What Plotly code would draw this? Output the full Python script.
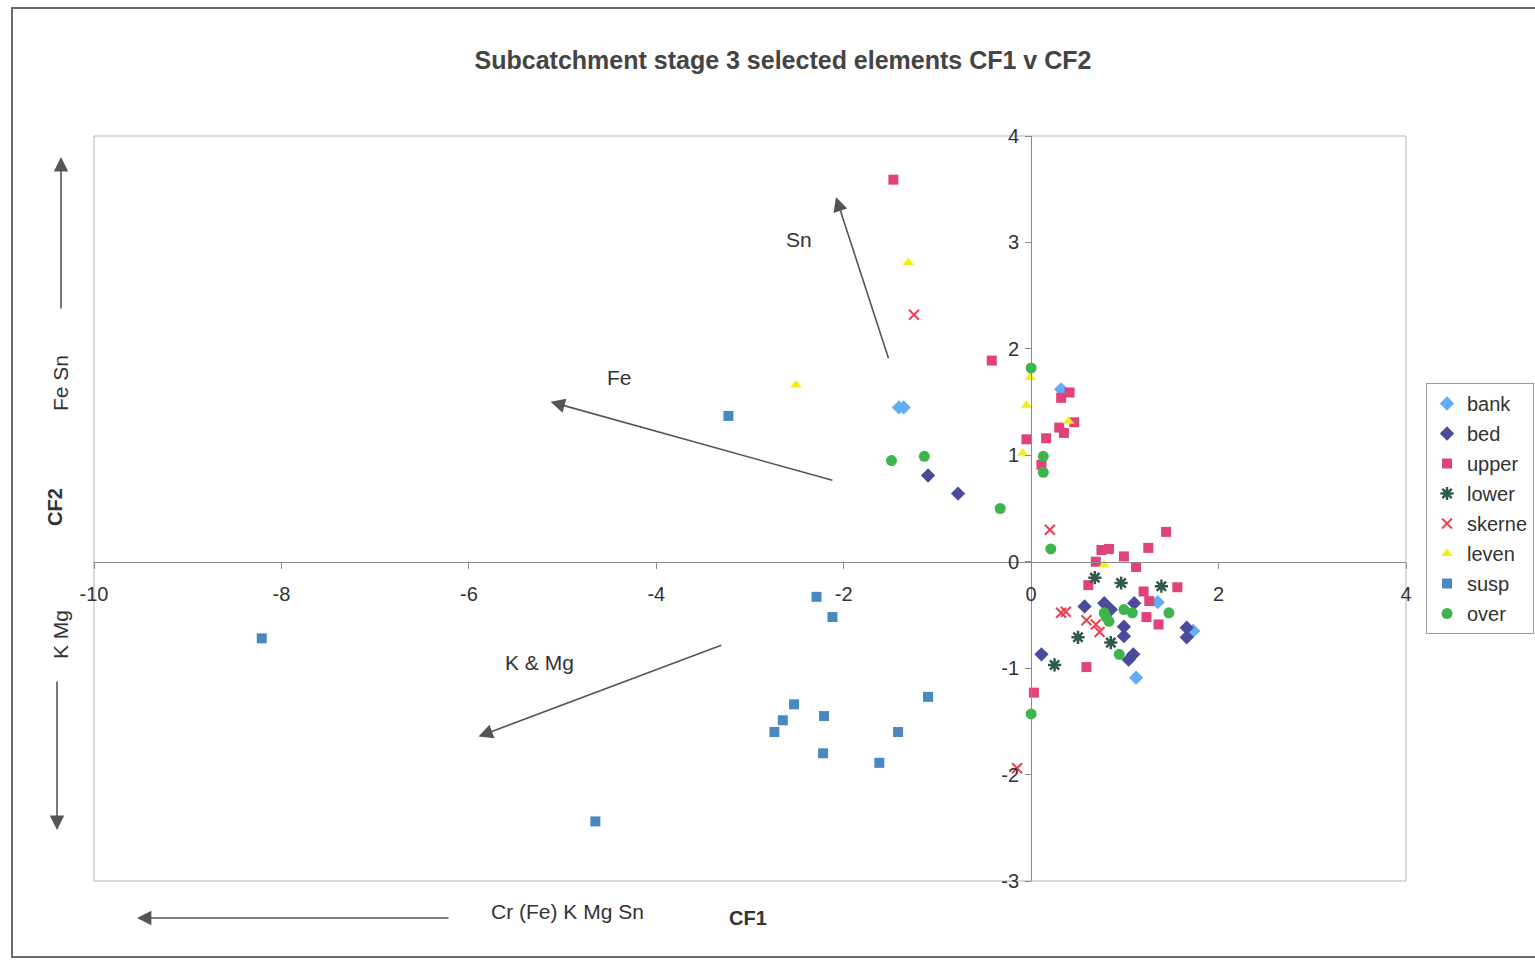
import plotly.graph_objects as go

# ---------------- data ----------------
bank_x = [-1.41, -1.36, 0.32, 1.35, 1.73, 1.12]
bank_y = [1.45, 1.45, 1.62, -0.38, -0.65, -1.09]

bed_x = [-1.10, -0.78, 0.11, 0.57, 0.78, 0.85, 1.10, 0.99, 0.99, 1.09, 1.04, 1.66, 1.66]
bed_y = [0.81, 0.64, -0.87, -0.42, -0.39, -0.45, -0.39, -0.61, -0.70, -0.87, -0.92, -0.62, -0.71]

upper_x = [-1.47, -0.42, 0.32, 0.41, 0.30, 0.35, 0.46, -0.05, 0.16, 0.11,
           0.69, 0.75, 0.83, 0.99, 1.12, 1.25, 1.44, 0.61, 1.56, 1.20, 1.26,
           1.23, 1.36, 0.59, 0.03]
upper_y = [3.59, 1.89, 1.54, 1.59, 1.26, 1.21, 1.31, 1.15, 1.16, 0.91,
           0.00, 0.11, 0.12, 0.05, -0.05, 0.13, 0.28, -0.22, -0.24, -0.28, -0.37,
           -0.52, -0.59, -0.99, -1.23]

lower_x = [0.68, 0.96, 1.39, 0.50, 0.85, 0.25]
lower_y = [-0.15, -0.20, -0.23, -0.71, -0.76, -0.97]

skerne_x = [-1.25, 0.20, 0.32, 0.37, 0.59, 0.69, 0.73, -0.15]
skerne_y = [2.32, 0.30, -0.48, -0.47, -0.55, -0.59, -0.66, -1.94]

leven_x = [-1.31, -2.51, -0.01, -0.05, -0.09, 0.40, 0.78]
leven_y = [2.81, 1.66, 1.73, 1.47, 1.02, 1.32, -0.03]

susp_x = [-8.21, -4.65, -3.23, -2.29, -2.12, -2.53, -2.65, -2.74, -2.21, -2.22, -1.62, -1.42, -1.10]
susp_y = [-0.72, -2.44, 1.37, -0.33, -0.52, -1.34, -1.49, -1.60, -1.45, -1.80, -1.89, -1.60, -1.27]

over_x = [-1.49, -1.14, -0.33, 0.00, 0.13, 0.13, 0.21, 0.78, 0.83, 0.80, 0.99, 1.08, 1.47, 0.94, 0.00]
over_y = [0.95, 0.99, 0.50, 1.82, 0.99, 0.84, 0.12, -0.48, -0.56, -0.52, -0.45, -0.48, -0.48, -0.87, -1.43]

x_tickvals = [-10, -8, -6, -4, -2, 0, 2, 4]
x_ticktext = ["-10", "-8", "-6", "-4", "-2", "0", "2", "4"]
y_tickvals = [-3, -2, -1, 0, 1, 2, 3, 4]
y_ticktext = ["-3", "-2", "-1", "0", "1", "2", "3", "4"]

title_text = "Subcatchment stage 3 selected elements CF1 v CF2"

# ---------------- figure ----------------
W, H = 1535, 960
L, R, T, B = 94, 129, 136, 79
PW, PH = W - L - R, H - T - B


def px(xp):
    return (xp - L) / PW


def py(yp):
    return (H - B - yp) / PH


FONT = "Liberation Sans, Arial, sans-serif"
TXT = "#333333"

fig = go.Figure()

series = [
    ("bank", bank_x, bank_y, dict(symbol="diamond", size=11, color="#62AEF2")),
    ("bed", bed_x, bed_y, dict(symbol="diamond", size=11, color="#4B4B9B")),
    ("upper", upper_x, upper_y, dict(symbol="square", size=10, color="#E0437C")),
    ("lower", lower_x, lower_y, dict(symbol="asterisk-open", size=11, color="#2F5A4A",
                                       line=dict(width=2.5, color="#2F5A4A"))),
    ("skerne", skerne_x, skerne_y, dict(symbol="x-thin-open", size=10, color="#F03F55",
                                         line=dict(width=2, color="#F03F55"))),
    ("leven", leven_x, leven_y, dict(symbol="triangle-up", size=10, color="#F4EE10")),
    ("susp", susp_x, susp_y, dict(symbol="square", size=10, color="#4A89BF")),
    ("over", over_x, over_y, dict(symbol="circle", size=11, color="#3EB54C")),
]
for name, xs, ys, mk in series:
    fig.add_trace(go.Scatter(x=xs, y=ys, mode="markers", name=name, marker=mk,
                             legendgroup=name))

axis_common = dict(showgrid=False, zeroline=False, showline=True, linecolor="#8a8a8a",
                   linewidth=1, ticks="outside", ticklen=6, tickcolor="#8a8a8a",
                   tickfont=dict(family=FONT, size=20, color=TXT))

fig.update_layout(
    width=W, height=H,
    margin=dict(l=L, r=R, t=T, b=B, autoexpand=False),
    paper_bgcolor="white", plot_bgcolor="white",
    title=dict(text=title_text, x=783 / W, xanchor="center", y=1 - 60 / H, yanchor="middle",
               font=dict(family=FONT, size=25, color="#444444", weight="bold")),
    xaxis=dict(range=[-10, 4], tickvals=x_tickvals, ticktext=x_ticktext,
               anchor="free", position=3 / 7, ticklabelstandoff=8, **axis_common),
    yaxis=dict(range=[-3, 4], tickvals=y_tickvals, ticktext=y_ticktext,
               anchor="free", position=10 / 14, side="left", ticklabelstandoff=2, **axis_common),
    legend=dict(x=px(1426), xanchor="left", y=py(383), yanchor="top",
                bordercolor="#9a9a9a", borderwidth=1, bgcolor="white",
                font=dict(family=FONT, size=20, color=TXT), tracegroupgap=1,
                itemwidth=30),
    showlegend=True,
)

# plot-area frame and outer chart border
fig.add_shape(type="rect", xref="paper", yref="paper", x0=0, x1=1, y0=0, y1=1,
              line=dict(color="#b5b5b5", width=1), layer="below")
fig.add_shape(type="rect", xref="paper", yref="paper", x0=px(12), x1=px(1560),
              y0=py(957), y1=py(8), line=dict(color="#6a6a6a", width=2), layer="below")

ARROW = "#555555"
AH = dict(arrowhead=2, arrowsize=1.8, arrowwidth=1.6, arrowcolor=ARROW)
# in-plot arrows (data coordinates)
arrows = [
    ((-2.083, 3.427), (-1.517, 1.897)),
    ((-5.128, 1.502), (-2.105, 0.761)),
    ((-5.897, -1.643), (-3.291, -0.779)),
]
for (hx, hy), (tx, ty) in arrows:
    fig.add_annotation(x=hx, y=hy, ax=tx, ay=ty, xref="x", yref="y", axref="x", ayref="y",
                       text="", showarrow=True, standoff=0, **AH)

labels = [("Sn", -2.479, 3.023), ("Fe", -4.391, 1.728), ("K &amp; Mg", -5.246, -0.948)]
for t, lx, ly in labels:
    fig.add_annotation(x=lx, y=ly, xref="x", yref="y", text=t, showarrow=False,
                       font=dict(family=FONT, size=21, color=TXT))

# outside arrows (paper coordinates, pixel offsets)
fig.add_annotation(x=px(61), y=py(157), xref="paper", yref="paper", ax=0, ay=153, text="",
                   showarrow=True, **AH)
fig.add_annotation(x=px(57), y=py(830), xref="paper", yref="paper", ax=0, ay=-150, text="",
                   showarrow=True, **AH)
fig.add_annotation(x=px(137), y=py(918), xref="paper", yref="paper", ax=313, ay=0, text="",
                   showarrow=True, **AH)

side_texts = [
    ("Fe Sn", 60, 383, False, -90),
    ("CF2", 55, 507, True, -90),
    ("K Mg", 60, 635, False, -90),
    ("Cr (Fe) K Mg Sn", 567, 912, False, 0),
    ("CF1", 748, 918, True, 0),
]
for t, xp, yp, bold, ang in side_texts:
    fig.add_annotation(x=px(xp), y=py(yp), xref="paper", yref="paper", text=t,
                       showarrow=False, textangle=ang, xanchor="center", yanchor="middle",
                       font=dict(family=FONT, size=21 if not bold else 20, color=TXT,
                                 weight="bold" if bold else "normal"))

fig.write_html("out.html")
